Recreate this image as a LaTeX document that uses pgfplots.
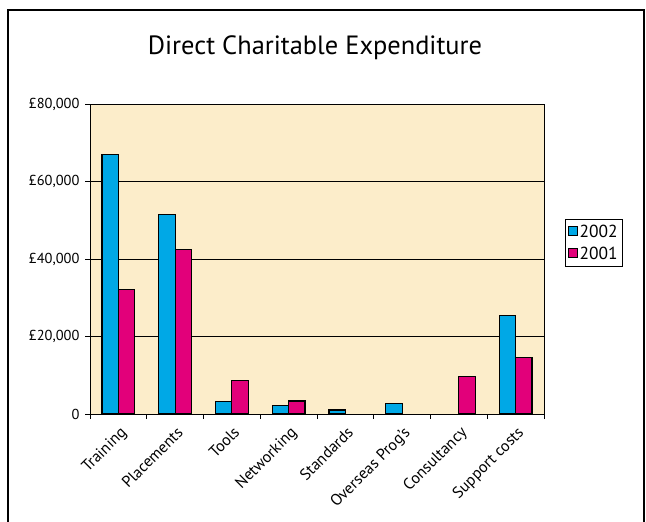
\documentclass[border=0pt]{standalone}
\usepackage{fontspec}
\setmainfont{PT Sans}
\usepackage{pgfplots}
\pgfplotsset{compat=1.18}
\definecolor{c2002}{HTML}{00A8E6}
\definecolor{c2001}{HTML}{E2007A}
\definecolor{bgc}{HTML}{FCEDCA}
\begin{document}
\begin{tikzpicture}
\useasboundingbox (0,0) rectangle (646bp,-522bp);
\fill[white] (0,0) rectangle (646bp,-522bp);
\draw[line width=1.6bp] (8bp,-540bp) -- (8bp,-10bp) -- (644bp,-10bp) -- (644bp,-540bp);
\node[font=\fontsize{26.5}{31}\selectfont] at (315bp,-48bp) {Direct Charitable Expenditure};
\begin{axis}[
  at={(90bp,-414bp)}, anchor=south west,
  scale only axis, width=454bp, height=310bp,
  ybar, bar width=0.29,
  xmin=-0.5, xmax=7.5, ymin=0, ymax=80000,
  scaled y ticks=false,
  axis background/.style={fill=bgc},
  axis line style={black, line width=0.8bp},
  xtick={0,...,7},
  xticklabels={Training,Placements,Tools,Networking,Standards,{Overseas Prog's},Consultancy,{Support costs}},
  xtick style={draw=none},
  extra x ticks={-0.5,0.5,...,7.5},
  extra x tick labels={},
  extra x tick style={xtick style={draw=black, line width=0.8bp}, grid=none},
  ytick={0,20000,40000,60000,80000},
  yticklabels={0,{£20,000},{£40,000},{£60,000},{£80,000}},
  tick align=outside, major tick length=5bp,
  ytick style={black, line width=0.8bp},
  tick pos=left,
  ymajorgrids, grid style={black, line width=0.8bp},
  /pgf/number format/assume math mode=true,
  yticklabel style={font=\fontsize{14.5}{17}\selectfont, xshift=-2bp},
  xticklabel style={font=\fontsize{16}{19}\selectfont, rotate=45, anchor=north east, inner sep=1bp, yshift=-4bp, xshift=-3bp},
  legend style={at={(1.046,0.629)}, anchor=north west, draw=black, line width=0.8bp, fill=white,
    font=\fontsize{17.5}{20}\selectfont, inner xsep=3bp, inner ysep=3.5bp, row sep=4bp,
    /tikz/every even column/.append style={column sep=0bp}},
  legend cell align=left,
  legend image code/.code={\draw[#1, line width=0.8bp] (0bp,-3.5bp) rectangle (8.5bp,5bp);},
]
\addplot[fill=c2002, draw=black, line width=1.2bp, bar shift=-0.145] coordinates {
 (0,67000) (1,51400) (2,3200) (3,2200) (4,1050) (5,2700) (7,25500)};
\addplot[fill=c2001, draw=black, line width=1.2bp, bar shift=0.145] coordinates {
 (0,32200) (1,42400) (2,8600) (3,3350) (6,9600) (7,14600)};
\legend{2002,2001}
\end{axis}
\end{tikzpicture}
\end{document}
